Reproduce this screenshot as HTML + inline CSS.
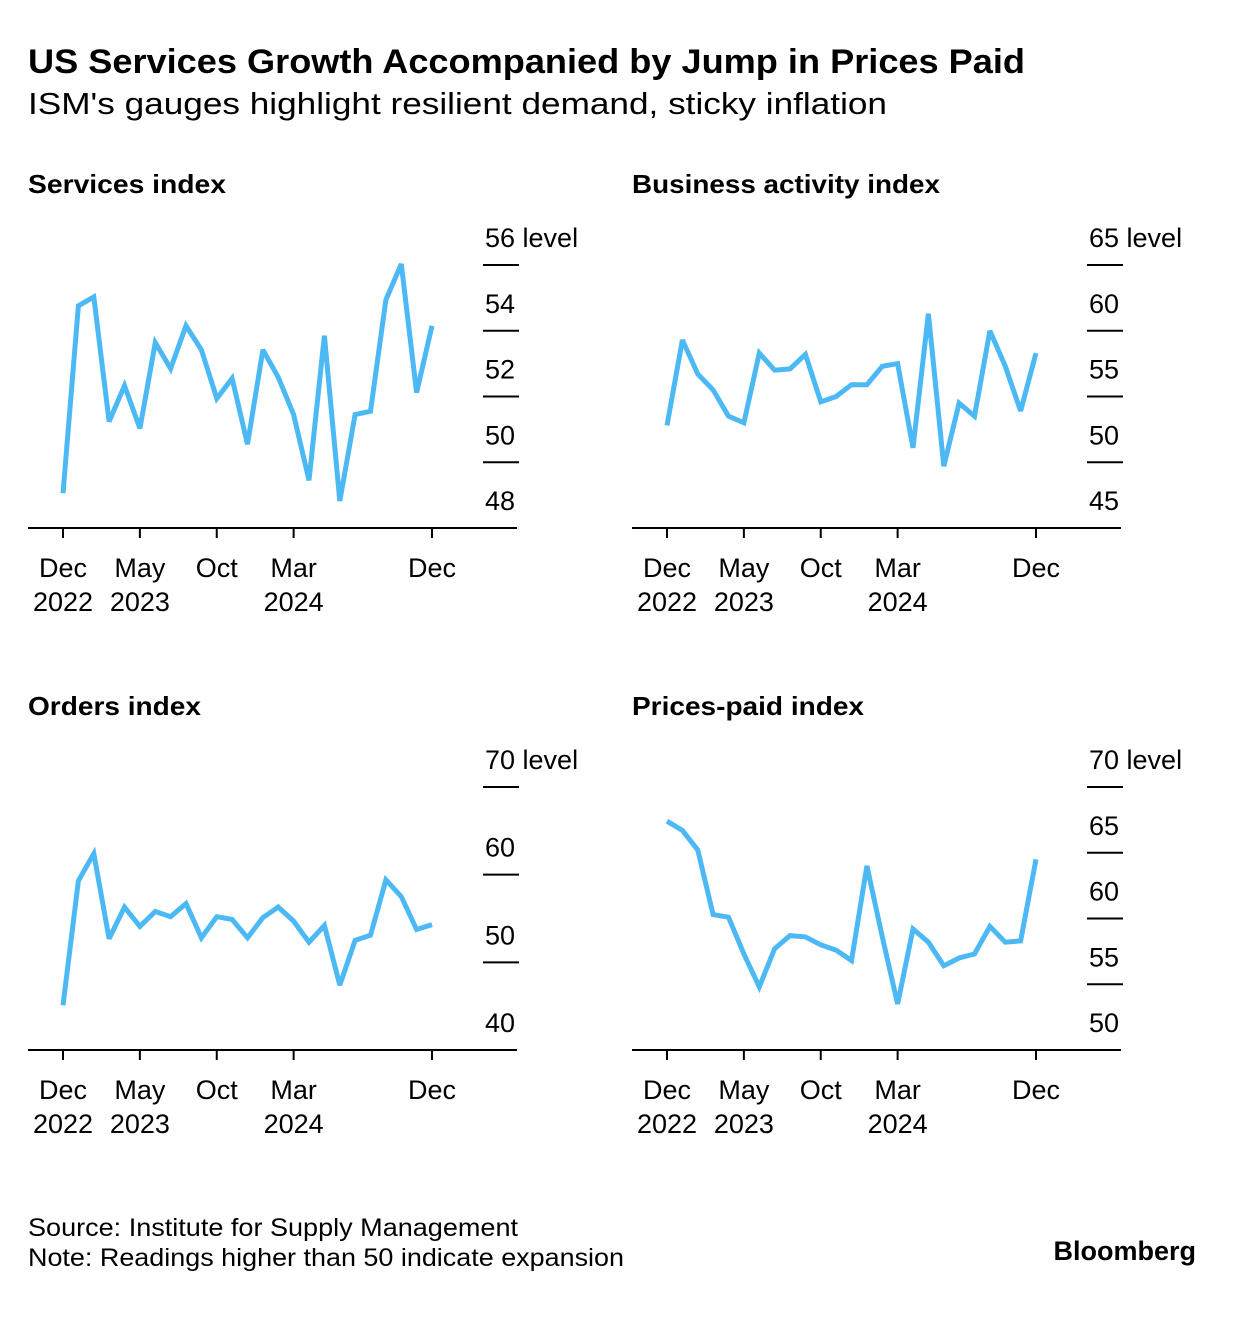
<!DOCTYPE html>
<html><head><meta charset="utf-8"><style>
body{margin:0;background:#fff;}
svg text{font-family:"Liberation Sans",sans-serif;fill:#000;}
</style></head><body>
<svg id="c" width="1236" height="1312" xmlns="http://www.w3.org/2000/svg">
<text x="28" y="73" font-size="34" font-weight="bold" textLength="997" lengthAdjust="spacingAndGlyphs">US Services Growth Accompanied by Jump in Prices Paid</text>
<text x="28" y="114" font-size="31" textLength="859" lengthAdjust="spacingAndGlyphs">ISM's gauges highlight resilient demand, sticky inflation</text>
<text x="28" y="1236" font-size="25" textLength="490" lengthAdjust="spacingAndGlyphs">Source: Institute for Supply Management</text>
<text x="28" y="1266" font-size="25" textLength="596" lengthAdjust="spacingAndGlyphs">Note: Readings higher than 50 indicate expansion</text>
<text x="1196" y="1260" font-size="27" font-weight="bold" text-anchor="end">Bloomberg</text>
</svg>
<script>
const services=[49.06,54.76,55.03,51.24,52.33,51.03,53.64,52.85,54.15,53.42,51.94,52.55,50.55,53.42,52.58,51.45,49.45,53.85,48.82,51.45,51.55,54.94,56.03,52.12,54.15];
const business=[52.8,59.3,56.7,55.5,53.5,53.0,58.3,57.0,57.1,58.2,54.6,55.0,55.9,55.9,57.3,57.5,51.1,61.3,49.7,54.5,53.5,60.0,57.3,53.9,58.3];
const orders=[45.1,59.3,62.4,52.7,56.3,54.1,55.8,55.2,56.7,52.8,55.2,54.9,52.8,55.1,56.3,54.7,52.3,54.2,47.4,52.5,53.1,59.4,57.5,53.75,54.3];
const prices=[67.4,66.7,65.2,60.3,60.1,57.3,54.8,57.7,58.7,58.6,58.0,57.6,56.8,64.0,58.6,53.5,59.2,58.2,56.4,57.0,57.3,59.4,58.2,58.3,64.5];
const servicesTicks=[48,50,52,54,56];
const businessTicks=[45,50,55,60,65];
const ordersTicks=[40,50,60,70];
const pricesTicks=[50,55,60,65,70];
const xTickIdx=[0,5,10,15,24];
const xTickMonth=["Dec","May","Oct","Mar","Dec"];
const xTickYear=["2022","2023","","2024",""];
const svg=document.getElementById('c');
const NS="http://www.w3.org/2000/svg";
function mk(tag,attrs,parent){const e=document.createElementNS(NS,tag);for(const k in attrs)e.setAttribute(k,attrs[k]);(parent||svg).appendChild(e);return e;}
function panel(key,title,titleLen,data,ticks,ox,top){
  const g=mk('g',{});
  
  
  const axisY=top+263, topY=top;
  const lo=ticks[0],hi=ticks[ticks.length-1];
  const y=v=>axisY-(v-lo)/(hi-lo)*(axisY-topY);
  const x0=ox+35,x1=ox+404;
  const x=i=>x0+i*(x1-x0)/(data.length-1);
  const t=mk('text',{x:ox,y:top-72,'font-size':26,'font-weight':'bold',textLength:titleLen,lengthAdjust:'spacingAndGlyphs'},g);t.textContent=title;
  
  
  ticks.forEach((v,i)=>{
    const yy=y(v);
    if(i>0){const l=mk('line',{x1:ox+455,x2:ox+491,y1:yy,y2:yy,stroke:'#000','stroke-width':2},g);
      
      }
    const tx=mk('text',{x:ox+457,y:yy-18,'font-size':27},g);
    tx.textContent=v+(i===ticks.length-1?' level':'');
    
    
  });
  const ax=mk('line',{x1:ox,x2:ox+489,y1:axisY,y2:axisY,stroke:'#000','stroke-width':2},g);
  
  
  xTickIdx.forEach((idx,k)=>{
    const xx=x(idx);
    const tk=mk('line',{x1:xx,x2:xx,y1:axisY,y2:axisY+10,stroke:'#000','stroke-width':2},g);
    
    
    const m=mk('text',{x:xx,y:axisY+49,'font-size':27,'text-anchor':'middle'},g);m.textContent=xTickMonth[k];
    
    
    if(xTickYear[k]){const yr=mk('text',{x:xx,y:axisY+83,'font-size':27,'text-anchor':'middle'},g);yr.textContent=xTickYear[k];
      
      }
  });
  const p=mk('polyline',{points:data.map((v,i)=>x(i).toFixed(1)+','+y(v).toFixed(1)).join(' '),fill:'none',stroke:'#4cb9f5','stroke-width':5,'stroke-linejoin':'miter','stroke-miterlimit':3},g);
  
  
}
panel('services','Services index',198,services,servicesTicks,28,265);
panel('business-activity','Business activity index',308,business,businessTicks,632,265);
panel('orders','Orders index',173,orders,ordersTicks,28,787);
panel('prices-paid','Prices-paid index',232,prices,pricesTicks,632,787);
</script>
</body></html>
